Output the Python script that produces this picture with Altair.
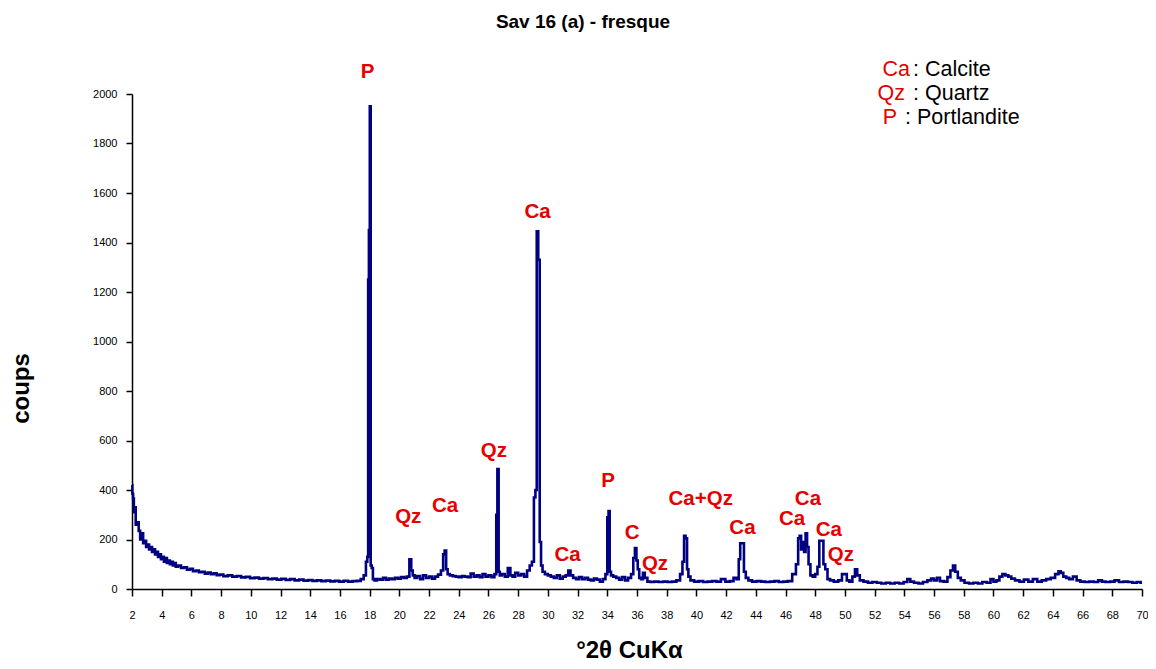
import altair as alt
import pandas as pd

# ---- scan data (2theta, counts) ----
scan_low_angle = [
    (2.0, 420), (2.05, 385), (2.1, 365), (2.15, 310), (2.2, 330), (2.3, 260), (2.4, 270),
    (2.5, 235), (2.6, 200), (2.7, 225), (2.8, 185), (2.9, 195), (3.0, 170), (3.1, 180),
    (3.2, 160), (3.3, 170), (3.4, 150), (3.5, 160), (3.6, 140), (3.7, 150), (3.8, 130),
    (3.9, 140), (4.0, 120), (4.1, 130), (4.2, 110), (4.3, 125), (4.4, 105), (4.5, 115),
    (4.6, 100), (4.7, 110), (4.8, 95), (4.9, 105), (5.0, 90), (5.2, 95), (5.4, 85),
    (5.6, 88), (5.8, 78), (6.0, 82), (6.2, 72), (6.4, 75), (6.6, 68), (6.8, 70),
    (7.0, 62), (7.2, 66), (7.4, 60), (7.6, 63), (7.8, 56), (8.0, 58), (8.3, 52),
    (8.6, 55), (8.9, 50), (9.2, 52), (9.5, 47), (9.8, 49), (10.1, 44), (10.4, 46),
    (10.7, 42), (11.0, 44), (11.3, 40), (11.6, 42), (11.9, 38), (12.2, 41), (12.5, 37),
    (12.8, 40), (13.1, 35), (13.4, 38), (13.7, 34), (14.0, 36), (14.3, 33), (14.6, 35),
    (14.9, 32), (15.2, 34), (15.5, 31), (15.8, 33), (16.1, 30), (16.4, 33), (16.7, 30),
    (17.0, 32), (17.3, 33), (17.5, 40), (17.7, 55),
]

scan_mid_angle = [
    (17.8, 110), (17.88, 130), (17.92, 1250), (17.98, 1450), (18.04, 1950), (18.1, 95),
    (18.18, 85), (18.26, 40), (18.4, 35), (18.6, 40), (18.8, 38), (19.0, 45), (19.2, 38),
    (19.4, 42), (19.6, 40), (19.8, 45), (20.0, 42), (20.2, 48), (20.4, 45), (20.6, 50),
    (20.75, 120), (20.85, 75), (20.95, 55), (21.1, 45), (21.3, 52), (21.5, 40), (21.7, 55),
    (21.9, 45), (22.1, 50), (22.3, 42), (22.5, 50), (22.7, 58), (22.9, 75), (23.0, 140),
    (23.1, 155), (23.2, 80), (23.3, 60), (23.5, 55), (23.7, 52), (23.9, 50), (24.1, 48),
    (24.3, 52), (24.5, 50), (24.7, 48), (24.9, 62), (25.1, 50), (25.3, 55), (25.5, 48),
    (25.7, 60), (25.9, 50), (26.1, 55), (26.3, 48), (26.5, 60), (26.55, 300), (26.65, 485),
    (26.72, 70), (26.8, 55), (27.0, 60), (27.2, 50), (27.4, 85), (27.55, 55), (27.7, 50),
    (27.9, 65), (28.1, 55), (28.3, 60), (28.5, 50), (28.7, 75), (28.85, 95), (29.0, 110),
    (29.12, 370), (29.2, 400), (29.3, 1445), (29.4, 1330), (29.5, 190), (29.58, 95),
    (29.7, 70), (29.9, 60), (30.1, 55), (30.3, 50), (30.5, 45), (30.7, 55), (30.9, 42),
    (31.1, 50), (31.3, 55), (31.45, 75), (31.6, 55), (31.8, 45), (32.0, 40), (32.2, 48),
    (32.4, 40), (32.6, 45), (32.8, 38), (33.0, 35), (33.2, 42), (33.4, 38), (33.6, 30),
    (33.8, 40), (33.95, 60), (34.05, 290), (34.12, 315), (34.2, 70), (34.3, 55), (34.5, 50),
    (34.7, 45), (34.9, 38), (35.1, 48), (35.3, 35), (35.5, 45), (35.7, 60), (35.8, 125),
    (35.92, 165), (36.0, 115), (36.1, 80), (36.2, 45), (36.35, 40), (36.45, 65), (36.6, 45),
    (36.8, 30), (37.0, 28), (37.3, 30), (37.6, 28), (37.9, 30), (38.2, 28), (38.5, 30),
    (38.8, 35), (39.0, 60), (39.12, 110), (39.22, 215), (39.32, 205), (39.42, 80),
    (39.5, 50), (39.7, 35), (40.0, 30), (40.3, 32), (40.6, 28), (40.9, 30), (41.2, 32),
    (41.5, 30), (41.8, 40), (42.1, 30), (42.4, 32), (42.6, 45), (42.8, 40), (42.9, 120),
    (43.0, 185), (43.15, 185), (43.25, 70), (43.4, 45), (43.6, 35), (43.9, 30),
]

scan_high_angle = [
    (44.2, 32), (44.5, 30), (44.8, 28), (45.1, 30), (45.4, 32), (45.7, 28), (46.0, 30),
    (46.3, 32), (46.6, 60), (46.8, 100), (46.9, 205), (47.0, 215), (47.1, 160), (47.2, 190),
    (47.3, 150), (47.4, 225), (47.5, 170), (47.6, 100), (47.75, 55), (47.9, 50), (48.1, 60),
    (48.2, 90), (48.35, 195), (48.5, 195), (48.6, 100), (48.75, 80), (48.9, 40), (49.1, 35),
    (49.4, 30), (49.7, 35), (49.9, 60), (50.05, 60), (50.2, 35), (50.4, 30), (50.6, 50),
    (50.75, 80), (50.9, 55), (51.1, 35), (51.4, 30), (51.7, 25), (52.0, 28), (52.3, 25),
    (52.6, 22), (52.9, 25), (53.2, 22), (53.5, 25), (53.8, 22), (54.1, 28), (54.3, 40),
    (54.5, 30), (54.8, 25), (55.1, 22), (55.4, 28), (55.7, 35), (55.9, 42), (56.1, 35),
    (56.3, 45), (56.5, 32), (56.8, 30), (57.0, 48), (57.2, 75), (57.35, 95), (57.5, 70),
    (57.7, 45), (57.9, 35), (58.2, 25), (58.5, 22), (58.8, 25), (59.1, 22), (59.4, 28),
    (59.7, 25), (59.9, 40), (60.1, 30), (60.3, 35), (60.5, 50), (60.7, 60), (60.9, 55),
    (61.1, 50), (61.3, 42), (61.6, 35), (61.9, 30), (62.2, 38), (62.5, 30), (62.8, 40),
    (63.1, 30), (63.4, 35), (63.7, 40), (64.0, 45), (64.3, 60), (64.45, 72), (64.6, 65),
    (64.8, 50), (65.0, 45), (65.2, 40), (65.5, 50), (65.7, 35), (66.0, 30), (66.3, 28),
    (66.6, 30), (66.9, 28), (67.2, 35), (67.4, 30), (67.7, 28), (68.0, 30), (68.3, 35),
    (68.6, 28), (68.9, 30), (69.2, 28), (69.5, 25), (69.8, 28), (70.0, 25),
]

# ---- peak labels (text, 2theta, counts position) ----
peak_labels = ["P", "Qz", "Ca", "Qz", "Ca", "Ca", "P", "C", "Qz", "Ca+Qz", "Ca", "Ca", "Ca", "Ca", "Qz"]
peak_x = [17.86, 20.6, 23.08, 26.36, 29.31, 31.32, 34.06, 35.67, 37.21, 40.29, 43.1, 46.44, 47.51, 48.92, 49.72]
peak_y = [2089, 291, 335, 558, 1523, 137, 436, 226, 101, 364, 246, 283, 364, 238, 137]

# ---- legend text ----
legend_codes = ["Ca", "Qz", "P"]
legend_names = [": Calcite", ": Quartz", ": Portlandite"]

x_ticks = list(range(2, 71, 2))
y_ticks = list(range(0, 2001, 200))

rows = scan_low_angle + scan_mid_angle + scan_high_angle
scan = pd.DataFrame(rows, columns=["two_theta", "counts"])
labels = pd.DataFrame({"label": peak_labels, "x": peak_x, "y": peak_y})

FONT = "Liberation Sans"
RED = "#e60000"
NAVY = "#000080"

x_scale = alt.Scale(domain=[2, 70], nice=False, zero=False)
y_scale = alt.Scale(domain=[0, 2000], nice=False)

x_axis = alt.Axis(values=x_ticks, title="°2θ CuKα", titleFontSize=24, titleFontWeight="bold",
                  titleX=497, titleY=61, titleBaseline="middle", titleAlign="center",
                  labelFontSize=11, labelPadding=13, tickSize=7, labelFlush=False,
                  labelOverlap=False, grid=False, format="d")
y_axis = alt.Axis(values=y_ticks, title="coups", titleFontSize=24, titleFontWeight="bold",
                  titleAngle=270, titleX=-111, titleY=294, titleBaseline="middle",
                  titleAlign="center", labelFontSize=11, labelPadding=9, tickSize=6,
                  labelOverlap=False, grid=False, format="d")

line = alt.Chart(scan).mark_line(color=NAVY, strokeWidth=2.6, interpolate="step").encode(
    x=alt.X("two_theta:Q", scale=x_scale, axis=x_axis),
    y=alt.Y("counts:Q", scale=y_scale, axis=y_axis),
)

peak_text = alt.Chart(labels).mark_text(
    color=RED, font=FONT, fontSize=20.5, fontWeight="bold", align="center", baseline="middle"
).encode(
    x=alt.X("x:Q", scale=x_scale, axis=x_axis),
    y=alt.Y("y:Q", scale=y_scale, axis=y_axis),
    text="label:N",
)

# legend rows (pixel positions relative to the plot area)
code_px = [778, 773, 765]
name_px = [781, 781, 773]
row_py = [-24, 0, 24]
legend_layers = []
for code, name, cx, nx, ry in zip(legend_codes, legend_names, code_px, name_px, row_py):
    row = pd.DataFrame({"code": [code], "name": [name]})
    legend_layers.append(
        alt.Chart(row).mark_text(color=RED, font=FONT, fontSize=21.5, align="right",
                                 baseline="middle")
        .encode(x=alt.value(cx), y=alt.value(ry), text="code:N")
    )
    legend_layers.append(
        alt.Chart(row).mark_text(color="black", font=FONT, fontSize=21.5, align="left",
                                 baseline="middle")
        .encode(x=alt.value(nx), y=alt.value(ry), text="name:N")
    )

chart = alt.layer(line, peak_text, *legend_layers).properties(
    width=1010,
    height=495,
    background="white",
    autosize=alt.AutoSizeParams(type="none"),
    padding={"left": 124, "top": 86, "right": 6, "bottom": 72},
    title=alt.TitleParams("Sav 16 (a) - fresque", fontSize=19, fontWeight="bold", font=FONT,
                          anchor="middle", dx=-54, dy=-23, color="black"),
).configure_view(stroke="transparent", strokeWidth=0).configure_axis(
    domainColor="black", tickColor="black", labelColor="black", titleColor="black",
    grid=False, labelFont=FONT, titleFont=FONT, domainWidth=1.5, tickWidth=1.5,
)

chart.save("out.html", embed_options={"renderer": "svg", "actions": False})
